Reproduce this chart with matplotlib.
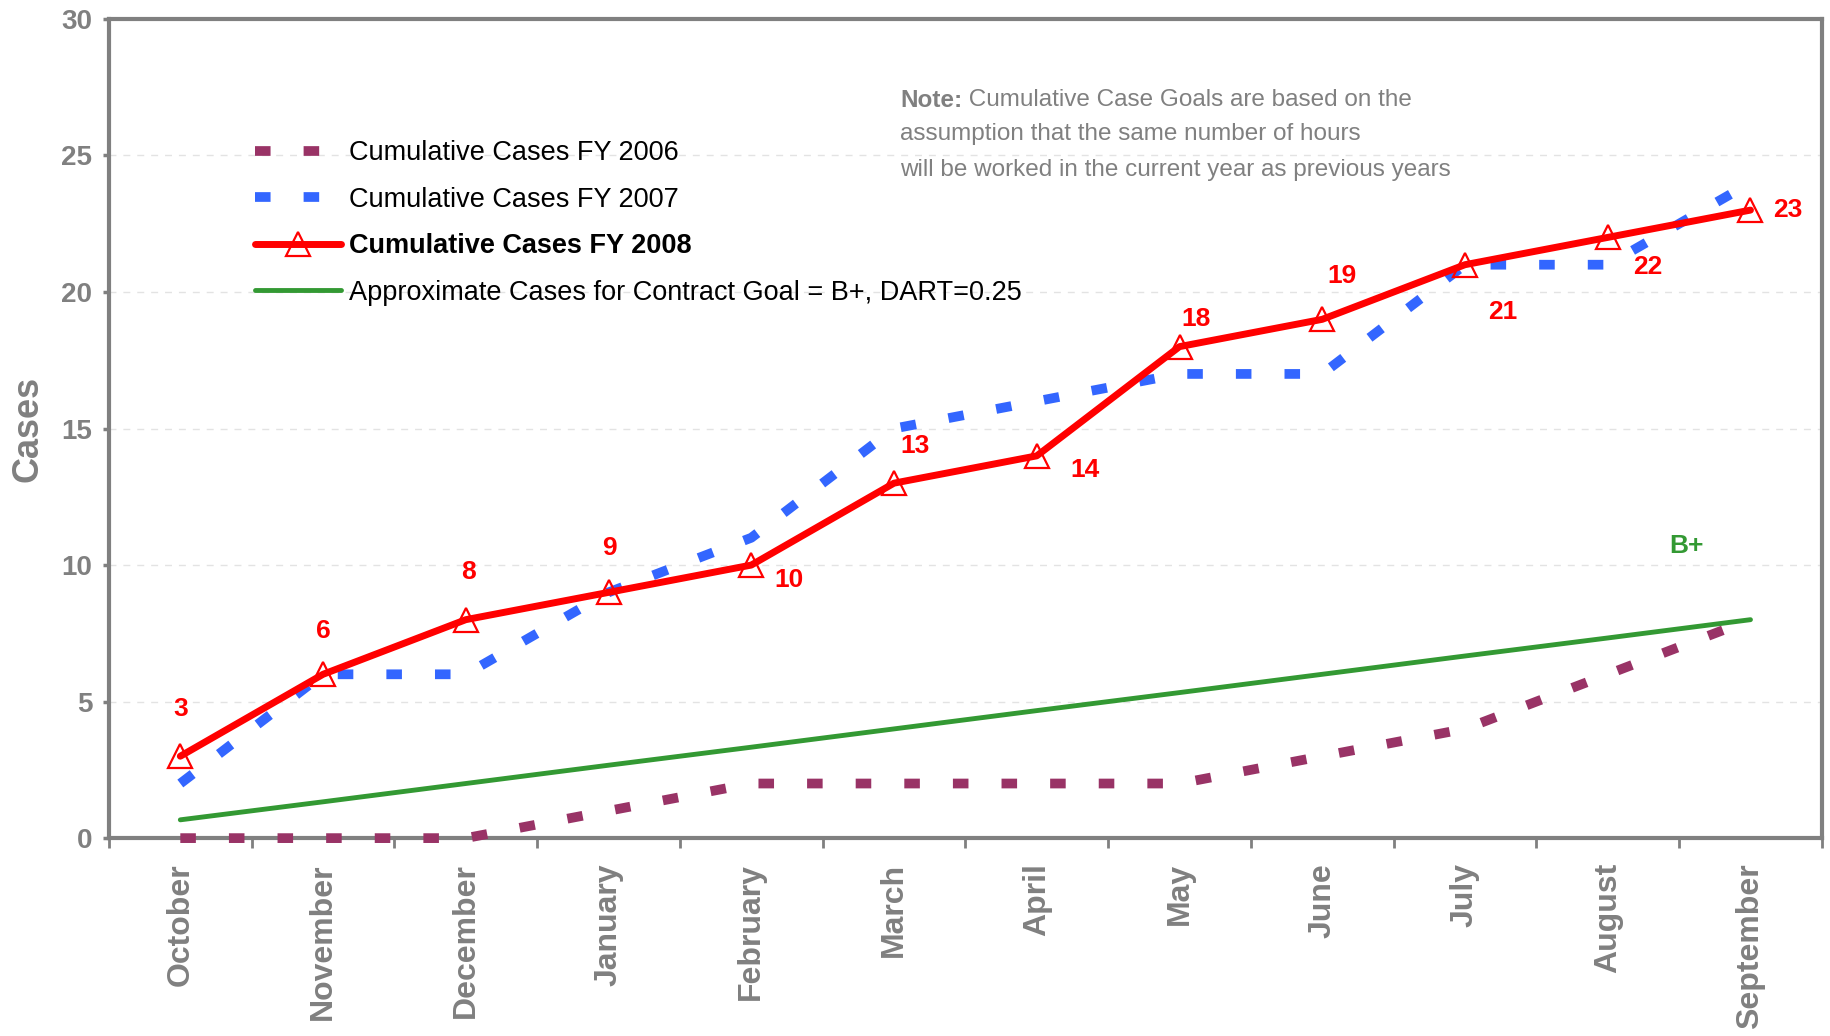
import numpy as np
import matplotlib
matplotlib.use("Agg")
import matplotlib.pyplot as plt

plt.rcParams['font.family'] = ['Liberation Sans', 'DejaVu Sans']

# Data
months = ["October", "November", "December", "January", "February", "March",
          "April", "May", "June", "July", "August", "September"]
fy2006 = [0, 0, 0, 1, 2, 2, 2, 2, 3, 4, 6, 8]
fy2007 = [2, 6, 6, 9, 11, 15, 16, 17, 17, 21, 21, 24]
fy2008 = [3, 6, 8, 9, 10, 13, 14, 18, 19, 21, 22, 23]
goal = [0.67, 1.33, 2.0, 2.67, 3.33, 4.0, 4.67, 5.33, 6.0, 6.67, 7.33, 8.0]

# where each FY 2008 value label sits relative to its point (points)
label_offsets = [(0, 34), (0, 31), (2, 34), (1, 32), (27, -11), (15, 27),
                 (35, -10), (12, 20), (14, 31), (27, -34), (29, -21), (27, 0)]

gray = "#808080"
x = np.arange(len(months))

fig = plt.figure(figsize=(18.31, 10.36), dpi=100)
ax = fig.add_axes([0.0595, 0.191, 0.9355, 0.7907])

ax.plot(x, fy2006, color="#993366", lw=7, dashes=(1.6, 3.4),
        dash_capstyle="butt", clip_on=False, zorder=4,
        label="Cumulative Cases FY 2006")
ax.plot(x, fy2007, color="#3366FF", lw=7, dashes=(1.6, 3.4),
        dash_capstyle="butt", clip_on=False, zorder=4,
        label="Cumulative Cases FY 2007")
ax.plot(x, fy2008, color="#FF0000", lw=5, marker="^", markersize=17,
        markerfacecolor="none", markeredgecolor="#FF0000", markeredgewidth=1.6,
        solid_capstyle="round", clip_on=False, zorder=5,
        label="Cumulative Cases FY 2008")
ax.plot(x, goal, color="#339933", lw=3.5, solid_capstyle="round", zorder=3,
        label="Approximate Cases for Contract Goal = B+, DART=0.25")

for xi, v, off in zip(x, fy2008, label_offsets):
    ax.annotate(str(v), (xi, v), xytext=off, textcoords="offset points",
                ha="center", va="center", color="#FF0000",
                fontsize=19, fontweight="bold")

ax.text(10.55, 10.7, "B+", color="#339933", fontsize=19, fontweight="bold",
        ha="center", va="center")

# note in the upper right
t1 = ax.text(0.4618, 0.901, "Note:", transform=ax.transAxes, fontsize=17.5,
             fontweight="bold", color=gray, va="center", ha="left")
ax.annotate(" Cumulative Case Goals are based on the", xy=(1, 0.5),
            xycoords=t1, va="center", ha="left", fontsize=17.5, color=gray)
ax.text(0.4618, 0.859, "assumption that the same number of hours",
        transform=ax.transAxes, fontsize=17.5, color=gray, va="center")
ax.text(0.4618, 0.816, "will be worked in the current year as previous years",
        transform=ax.transAxes, fontsize=17.5, color=gray, va="center")

ax.set_xlim(-0.5, len(months) - 0.5)
ax.set_ylim(0, 30)
ax.set_yticks(range(0, 31, 5))
ax.set_xticks(x)
ax.set_xticklabels(months, rotation=90, fontsize=23, fontweight="bold",
                   color=gray)
ax.set_xticks(np.arange(-0.5, len(months), 1), minor=True)
ax.tick_params(axis="x", which="major", length=0, pad=18)
ax.tick_params(axis="x", which="minor", length=7, width=2, color=gray,
               direction="out")
ax.tick_params(axis="y", length=4, width=2.5, color=gray, pad=8,
               labelsize=20, labelcolor=gray)
for lab in ax.get_yticklabels():
    lab.set_fontweight("bold")

for s in ax.spines.values():
    s.set_color(gray)
    s.set_linewidth(3)

ax.yaxis.grid(True, color="#E3E3E3", ls=(0, (5, 5)), lw=1)
ax.set_axisbelow(True)

ax.set_ylabel("Cases", fontsize=26, fontweight="bold", color=gray)
ax.yaxis.set_label_coords(-0.037, 0.5)

leg = ax.legend(loc="upper left", bbox_to_anchor=(0.085, 0.852), frameon=False,
                fontsize=19.5, handlelength=3.2, handletextpad=0.3,
                labelspacing=0.76, borderpad=0, borderaxespad=0)
leg.get_texts()[2].set_fontweight("bold")

fig.savefig("out.png", dpi=100)
